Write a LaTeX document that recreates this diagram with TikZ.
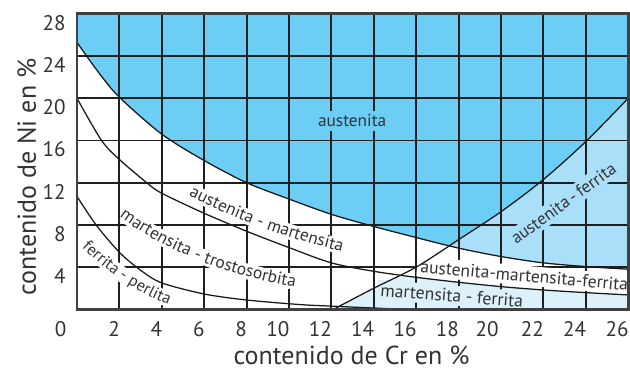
\documentclass[tikz,border=0pt]{standalone}
\usepackage{fontspec}
\setmainfont{PT Sans}
\usetikzlibrary{decorations.text}
\definecolor{austblue}{RGB}{108,206,245}
\definecolor{ferrblue}{RGB}{170,223,250}
\definecolor{martblue}{RGB}{221,241,251}
\definecolor{inkgray}{RGB}{51,51,51}
\definecolor{framegray}{RGB}{64,64,64}

\begin{document}
\begin{tikzpicture}[x=0.53cm, y=0.26375cm]
    \newcommand{\tickfnt}{\fontsize{15}{15}\selectfont}
    \newcommand{\lblfnt}{\fontsize{12.3}{12.3}\selectfont}
    \newcommand{\smlfnt}{\fontsize{11.6}{11.6}\selectfont}
    \newcommand{\ttlfnt}{\fontsize{18.5}{18.5}\selectfont}
    % boundary curves, (Cr, Ni) in %
    \newcommand{\curveA}{plot[smooth] coordinates {(0,25.3) (1,22.5) (2,20.1) (4,16.6) (6,14.1) (8,12) (10,10.45) (12,9.0) (14,7.85) (16,6.8) (18,5.8) (20,5.0) (22,4.4) (24,4.05) (26,3.8)}}
    \newcommand{\curveB}{plot[smooth] coordinates {(0,20) (1.16,16) (2,14.2) (3.29,12) (4,11.0) (6,9.1) (8,7.4) (10,5.85) (12,4.4) (14,3.6) (16,3.03) (18,2.56) (20,2.15) (22,1.83) (24,1.58) (26,1.36)}}
    \newcommand{\curveC}{plot[smooth] coordinates {(0,10.7) (0.9,8) (2,5.4) (3,3.7) (4,2.5) (6,1.45) (8,0.88) (10.5,0.45) (12,0.3) (14,0.12) (15.5,0)}}
    \newcommand{\curveD}{plot[smooth] coordinates {(12.1,0) (14,2.0) (16,4.0) (18,6.6) (20,9.25) (22,12.3) (24,15.9) (26,20)}}
    % baselines of the bent labels
    \newcommand{\pathAM}{(5.38,11.19) .. controls (7.45,9.03) and (9.84,7.27) .. (12.55,5.91)}
    \newcommand{\pathMT}{(2.22,9.01) .. controls (4.37,5.88) and (7.03,3.74) .. (10.21,2.61)}
    \newcommand{\pathFP}{(0.3,6.3) .. controls (1.7,3.65) and (3.05,1.85) .. (4.5,0.8)}

    % set the styles of lines and texts
    \tikzset{
        gridline/.style={line width=1.3pt, draw=black!88},
        frameline/.style={line width=2pt, draw=framegray},
        phaseline/.style={line width=0.9pt, draw=black!90},
        lblband/.style={line width=11pt, draw=white},
        lbl/.style={font=\lblfnt, text=inkgray, inner sep=2.5pt},
        tick/.style={font=\tickfnt, text=inkgray, inner sep=0pt, anchor=north east},
        axtitle/.style={font=\ttlfnt, text=inkgray, inner sep=0pt}
    }

    \useasboundingbox (-3.632,-5.848) rectangle (26.085,29.318);

    % phase areas
    \fill[austblue] \curveA -- (26,28) -- (0,28) -- cycle;
    \begin{scope}
        \clip \curveA -- (26,28) -- (0,28) -- cycle;
        \fill[ferrblue] \curveD -- (26,0) -- cycle;
    \end{scope}
    \begin{scope}
        \clip \curveB -- (26,0) -- (0,0) -- cycle;
        \fill[martblue] \curveD -- (26,0) -- cycle;
    \end{scope}

    % grid
    \draw[gridline] (0,0) grid[xstep=2, ystep=4] (26,28);

    % phase names
    \node[lbl, fill=austblue] (aust) at (12.98,17.85) {austenita};
    \node[lbl, fill=ferrblue, rotate=36] (austferr) at (22.94,10.05) {austenita\,-\,ferrita};
    \node[lbl, fill=white, rotate=-5, font=\fontsize{12.5}{12.5}\selectfont] (austmartferr) at (21.1,3.2) {austenita-martensita-ferrita};
    \node[lbl, fill=martblue, rotate=-4.5, font=\fontsize{12.6}{12.6}\selectfont] (martferr) at (17.68,1.31) {martensita - ferrita};
    \draw[lblband] \pathAM;
    \path[decorate, decoration={text along path, text align=center, raise=-3.5pt,
        text={|\lblfnt\color{inkgray}|austenita - martensita}}] \pathAM;
    \draw[lblband] \pathMT;
    \path[decorate, decoration={text along path, text align=center, raise=-3.5pt,
        text={|\lblfnt\color{inkgray}|martensita - trostosorbita}}] \pathMT;
    \draw[lblband] \pathFP;
    \path[decorate, decoration={text along path, text align=center, raise=-3.3pt,
        text={|\smlfnt\color{inkgray}|ferrita - perlita}}] \pathFP;

    % phase boundaries
    \begin{scope}
        \clip (0,0) rectangle (26,28);
        \draw[phaseline] \curveA;
        \draw[phaseline] \curveB;
        \draw[phaseline] \curveC;
        \draw[phaseline] \curveD;
    \end{scope}
    \draw[frameline] (0,0) rectangle (26,28);

    % axis numbers
    \node[tick] (x0) at (-0.49,-1.17) {0};
    \node[tick] (x2) at (2.03,-1.17) {2};
    \node[tick] (x4) at (4.03,-1.17) {4};
    \node[tick] (x6) at (6.03,-1.17) {6};
    \node[tick] (x8) at (8.03,-1.17) {8};
    \node[tick] (x10) at (10.03,-1.17) {10};
    \node[tick] (x12) at (12.03,-1.17) {12};
    \node[tick] (x14) at (14.03,-1.17) {14};
    \node[tick] (x16) at (16.03,-1.17) {16};
    \node[tick] (x18) at (18.03,-1.17) {18};
    \node[tick] (x20) at (19.9,-1.17) {20};
    \node[tick] (x22) at (22.03,-1.17) {22};
    \node[tick] (x24) at (24.03,-1.17) {24};
    \node[tick] (x26) at (26.03,-1.17) {26};
    \node[tick] (y4) at (-0.52,3.9) {4};
    \node[tick] (y8) at (-0.52,7.9) {8};
    \node[tick] (y12) at (-0.52,11.9) {12};
    \node[tick] (y16) at (-0.52,15.9) {16};
    \node[tick] (y20) at (-0.52,19.9) {20};
    \node[tick] (y24) at (-0.52,23.9) {24};
    \node[tick] (y28) at (-0.52,27.9) {28};

    % axis titles
    \node[axtitle] (crtitle) at (12.95,-4.4) {contenido de Cr en \%};
    \node[axtitle, rotate=90] (nititle) at (-2.37,12.52) {contenido de Ni en \%};
\end{tikzpicture}
\end{document}
